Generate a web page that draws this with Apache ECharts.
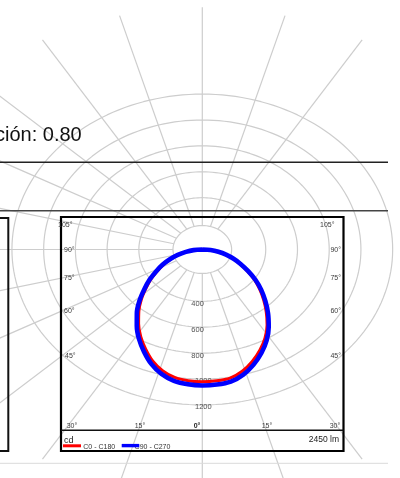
<!DOCTYPE html>
<html>
<head>
<meta charset="utf-8">
<script src="https://cdn.jsdelivr.net/npm/echarts@6/dist/echarts.min.js"></script>
<style>
  html, body { margin: 0; padding: 0; background: #ffffff; }
  #chart { width: 400px; height: 478px; }
</style>
</head>
<body>
<div id="chart"></div>
<script>
// Polar angle gamma, degrees from nadir (negative = left half of the plane)
const gammaDeg = [-90, -85, -80, -75, -70, -65, -60, -55, -50, -45, -40, -35, -30, -25, -20, -15, -10, -5,
                  0, 5, 10, 15, 20, 25, 30, 35, 40, 45, 50, 55, 60, 65, 70, 75, 80, 85, 90];
// Luminous intensity in cd, plane C0 - C180
const intensityC0C180 = [0, 53, 102, 155, 208, 266, 324, 393, 462, 543, 622, 700, 776, 846, 915, 968, 1003, 1017,
                         1022, 1018, 1008, 973, 920, 858, 790, 712, 627, 546, 470, 397, 324, 262, 205, 152, 101, 51, 0];
// Luminous intensity in cd, plane C90 - C270
const intensityC90C270 = [0, 55, 105, 160, 215, 275, 335, 405, 477, 560, 642, 720, 798, 870, 940, 995, 1030, 1045,
                          1050, 1047, 1036, 1000, 946, 882, 811, 730, 645, 562, 485, 410, 334, 268, 210, 155, 103, 52, 0];
// Iso-intensity rings (cd) and the ones that carry a label
const ringRadii = [185, 400, 600, 800, 1000, 1200];
const ringLabels = [400, 600, 800, 1000, 1200];
// Radial guide lines, degrees from nadir
const spokeAngles = [0, -15, -30, -45, -60, -75, -90, -105, -120, -135, -150, -165, 180, 15, 30, 150, 165];
// Angle tick labels along the frame
const sideAngleLabels = ['105°', '90°', '75°', '60°', '45°'];
const bottomAngleLabels = ['30°', '15°', '0°', '15°', '30°'];
const legendNames = ['C0 - C180', 'C90 - C270'];
const luminousFlux = '2450 lm';
const unitLabel = 'cd';
const headingText = 'ción: 0.80';

// ---- layout of the diagram ----
const W = 400, H = 478;
const CX = 202.3, CY = 249.5;          // pole of the diagram, px
const PX_PER_CD = 0.1295;              // vertical scale
const RING_STRETCH = 1.225;            // horizontal / vertical scale
const SPOKE_STRETCH = 1.32;
const SPOKE_OUTER = 1870;
const SX = PX_PER_CD * RING_STRETCH;
const FONT = "'Liberation Sans', Arial, Helvetica, sans-serif";
const GRID_GREY = '#cdcdcd';

const rad = d => d * Math.PI / 180;

function curvePoints(values) {
  return gammaDeg.map((g, i) => [values[i] * Math.sin(rad(g)), -values[i] * Math.cos(rad(g))]);
}

const series = [];

ringRadii.forEach(r => {
  const pts = [];
  for (let a = 0; a <= 360; a += 2) pts.push([r * Math.sin(rad(a)), r * Math.cos(rad(a))]);
  series.push({
    type: 'line', data: pts, symbol: 'none', silent: true, z: 1,
    lineStyle: { color: GRID_GREY, width: 1.2 }
  });
});

const k = SPOKE_STRETCH / RING_STRETCH;
spokeAngles.forEach(a => {
  const dx = Math.sin(rad(a)) * k, dy = -Math.cos(rad(a));
  const len = Math.hypot(dx, dy);
  const inner = ringRadii[0] / len;
  series.push({
    type: 'line', symbol: 'none', silent: true, z: 1,
    data: [[dx * inner, dy * inner], [dx * SPOKE_OUTER, dy * SPOKE_OUTER]],
    lineStyle: { color: GRID_GREY, width: 1.2 }
  });
});

series.push({
  type: 'scatter', symbolSize: 0, silent: true, z: 3,
  data: ringLabels.map(v => ({
    value: [0, -v],
    label: { offset: [v >= 1000 ? 1 : -4.7, 2.4] }
  })),
  label: {
    show: true, position: 'inside', formatter: p => String(-p.value[1]),
    fontSize: 7.5, fontFamily: FONT, color: '#262626'
  }
});

series.push({
  name: legendNames[0], type: 'line', smooth: 0.3, symbol: 'none', silent: true, z: 5,
  data: curvePoints(intensityC0C180),
  lineStyle: { color: '#ff0000', width: 3 }
});
series.push({
  name: legendNames[1], type: 'line', smooth: 0.3, symbol: 'none', silent: true, z: 6,
  data: curvePoints(intensityC90C270),
  lineStyle: { color: '#0000ff', width: 4.6 }
});

// frame, legend strip and surrounding page rules
const txt = (text, x, y, size, align, extra) => Object.assign({
  type: 'text', x, y, z: 20, silent: true,
  style: Object.assign({
    text, fontSize: size, fontFamily: FONT, fill: '#333333',
    align, verticalAlign: 'middle', textAlign: align, textVerticalAlign: 'middle'
  }, extra || {})
});
const hline = (x1, x2, y, color, w, z) => ({
  type: 'line', z: z || 10, silent: true,
  shape: { x1, y1: y, x2, y2: y }, style: { stroke: color, lineWidth: w }
});

const sideY = [225, 250, 278, 311, 356];
const leftX = [58, 64, 64, 64, 65];
const rightX = [334.5, 341, 341, 341, 341];
const bottomX = [72, 140, 197, 267, 335];

const graphic = [
  txt(headingText, -5, 135, 20, 'left', { fill: '#111111' }),
  hline(0, 388, 162.3, '#222222', 1.5),
  hline(0, 388, 210.8, '#444444', 1.6),
  hline(0, 388, 463.3, '#dadada', 1, 0),
  { type: 'rect', z: 10, silent: true, shape: { x: -50, y: 218, width: 58.3, height: 233 },
    style: { fill: null, stroke: '#111111', lineWidth: 2 } },
  { type: 'rect', z: 12, silent: true, shape: { x: 61, y: 217, width: 282.5, height: 234 },
    style: { fill: null, stroke: '#000000', lineWidth: 2.2 } },
  hline(61, 343.5, 430.3, '#111111', 1.6, 12),
  txt(unitLabel, 64, 440.5, 9, 'left', { fill: '#222222' }),
  hline(63, 81, 445.8, '#ff0000', 3, 21),
  txt(legendNames[0], 83.3, 446.6, 7, 'left'),
  txt(legendNames[1], 134.6, 446.6, 7, 'left'),
  hline(121.7, 139.3, 445.6, '#0000ff', 3.4, 21),
  txt(luminousFlux, 339, 440, 8.5, 'right', { fill: '#222222' })
];
sideAngleLabels.forEach((s, i) => {
  graphic.push(txt(s, leftX[i], sideY[i], 7, 'left', { fill: '#3a3a3a' }));
  graphic.push(txt(s, rightX[i], sideY[i], 7, 'right', { fill: '#3a3a3a' }));
});
bottomAngleLabels.forEach((s, i) => {
  graphic.push(txt(s, bottomX[i], 426, 7, 'center',
    s === '0°' ? { fill: '#222222', fontWeight: 'bold' } : { fill: '#3a3a3a' }));
});

const chart = echarts.init(document.getElementById('chart'), null, { renderer: 'canvas' });
chart.setOption({
  animation: false,
  backgroundColor: '#ffffff',
  grid: { left: 0, right: 0, top: 0, bottom: 0, containLabel: false },
  xAxis: { type: 'value', min: -CX / SX, max: (W - CX) / SX, show: false },
  yAxis: { type: 'value', min: -(H - CY) / PX_PER_CD, max: CY / PX_PER_CD, show: false },
  series,
  graphic
});
</script>
</body>
</html>
